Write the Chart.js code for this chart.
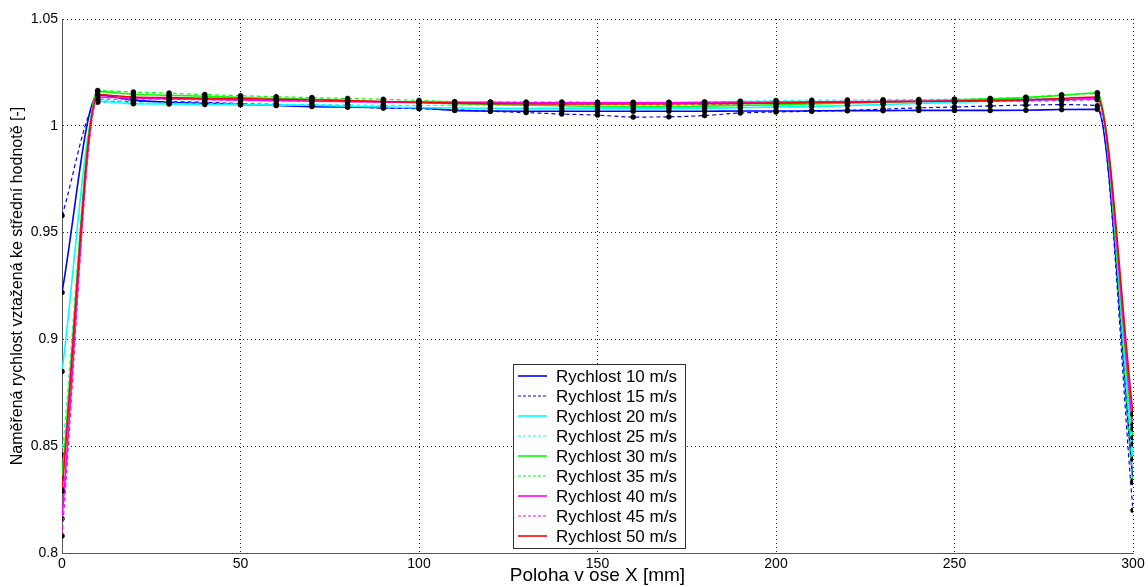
<!DOCTYPE html>
<html>
<head>
<meta charset="utf-8">
<script src="https://cdn.jsdelivr.net/npm/chart.js@4/dist/chart.umd.min.js"></script>
<style>
  body { margin: 0; background: #fff; }
  #wrap { width: 1148px; height: 587px; position: relative; }
</style>
</head>
<body>
<div id="wrap"><canvas id="graf"></canvas></div>
<script>
// poloha v ose X [mm]
const poloha = [0, 10, 20, 30, 40, 50, 60, 70, 80, 90, 100, 110, 120, 130, 140, 150,
  160, 170, 180, 190, 200, 210, 220, 230, 240, 250, 260, 270, 280, 290, 300];

const rychlosti = ["Rychlost 10 m/s", "Rychlost 15 m/s", "Rychlost 20 m/s", "Rychlost 25 m/s",
  "Rychlost 30 m/s", "Rychlost 35 m/s", "Rychlost 40 m/s", "Rychlost 45 m/s", "Rychlost 50 m/s"];

const v10 = [0.922, 1.0145, 1.012, 1.011, 1.0105, 1.0100, 1.0095, 1.0090, 1.0088, 1.0085, 1.0083,
  1.0072, 1.0069, 1.0068, 1.0068, 1.0068, 1.0068, 1.0068, 1.0068, 1.0069, 1.0069, 1.0070, 1.0071,
  1.0071, 1.0072, 1.0072, 1.0072, 1.0073, 1.0076, 1.0077, 0.834];
const v15 = [0.958, 1.011, 1.0115, 1.0113, 1.0110, 1.0104, 1.0100, 1.0095, 1.0088, 1.0083, 1.0080,
  1.0075, 1.0068, 1.0062, 1.0055, 1.0050, 1.0041, 1.0042, 1.0048, 1.0060, 1.0065, 1.0068, 1.0072,
  1.0078, 1.0084, 1.0088, 1.0093, 1.0097, 1.0099, 1.0094, 0.820];
const v20 = [0.885, 1.0115, 1.0103, 1.0102, 1.0100, 1.0099, 1.0097, 1.0096, 1.0092, 1.0088, 1.0085,
  1.0083, 1.0082, 1.0081, 1.0080, 1.0080, 1.0080, 1.0081, 1.0082, 1.0085, 1.0088, 1.0090, 1.0095,
  1.0100, 1.0105, 1.0110, 1.0115, 1.0118, 1.0120, 1.0125, 0.844];
const v25 = [0.846, 1.0120, 1.0108, 1.0106, 1.0104, 1.0102, 1.0101, 1.0100, 1.0098, 1.0096, 1.0095,
  1.0096, 1.0097, 1.0098, 1.0100, 1.0102, 1.0105, 1.0108, 1.0112, 1.0115, 1.0118, 1.0120, 1.0121,
  1.0122, 1.0123, 1.0124, 1.0125, 1.0126, 1.0128, 1.0130, 0.851];
const v30 = [0.835, 1.0160, 1.0148, 1.0143, 1.0138, 1.0133, 1.0128, 1.0124, 1.0118, 1.0112, 1.0108,
  1.0103, 1.0100, 1.0097, 1.0094, 1.0091, 1.0090, 1.0090, 1.0092, 1.0095, 1.0098, 1.0102, 1.0106,
  1.0110, 1.0115, 1.0120, 1.0125, 1.0132, 1.0142, 1.0155, 0.854];
const v35 = [0.830, 1.0165, 1.0158, 1.0153, 1.0146, 1.0141, 1.0136, 1.0132, 1.0128, 1.0124, 1.0119,
  1.0113, 1.0110, 1.0107, 1.0103, 1.0100, 1.0098, 1.0097, 1.0099, 1.0102, 1.0105, 1.0108, 1.0112,
  1.0116, 1.0120, 1.0124, 1.0128, 1.0134, 1.0145, 1.0150, 0.833];
const v40 = [0.816, 1.0135, 1.0130, 1.0127, 1.0124, 1.0121, 1.0118, 1.0115, 1.0113, 1.0111, 1.0110,
  1.0109, 1.0109, 1.0108, 1.0108, 1.0108, 1.0108, 1.0108, 1.0109, 1.0110, 1.0111, 1.0112, 1.0113,
  1.0114, 1.0115, 1.0117, 1.0119, 1.0121, 1.0124, 1.0128, 0.858];
const v45 = [0.808, 1.0125, 1.0125, 1.0124, 1.0122, 1.0120, 1.0118, 1.0116, 1.0114, 1.0112, 1.0111,
  1.0111, 1.0111, 1.0111, 1.0111, 1.0110, 1.0110, 1.0110, 1.0110, 1.0111, 1.0111, 1.0112, 1.0113,
  1.0114, 1.0114, 1.0115, 1.0115, 1.0116, 1.0118, 1.0122, 0.860];
const v50 = [0.829, 1.0145, 1.0135, 1.0132, 1.0129, 1.0127, 1.0124, 1.0122, 1.0118, 1.0114, 1.0110,
  1.0106, 1.0104, 1.0103, 1.0102, 1.0102, 1.0102, 1.0102, 1.0103, 1.0105, 1.0106, 1.0108, 1.0110,
  1.0112, 1.0114, 1.0116, 1.0118, 1.0122, 1.0128, 1.0135, 0.865];

const xTicks = [0, 50, 100, 150, 200, 250, 300];
const yTicks = [0.8, 0.85, 0.9, 0.95, 1, 1.05];

const hodnoty = [v10, v15, v20, v25, v30, v35, v40, v45, v50];
const barvy = ["#0000ff", "#0000ff", "#00ffff", "#00ffff", "#00ff00", "#00ff00", "#ff00ff", "#ff00ff", "#ff0000"];

const datasets = hodnoty.map((v, i) => ({
  label: rychlosti[i],
  data: v.map((y, j) => ({ x: poloha[j], y: y })),
  borderColor: barvy[i],
  borderWidth: i % 2 ? 1.2 : 1.6,
  borderDash: i % 2 ? [4, 3] : [],
  cubicInterpolationMode: "monotone",
  pointRadius: 2.5,
  pointBackgroundColor: "#000",
  pointBorderColor: "#000",
  pointBorderWidth: 0.5,
  order: hodnoty.length - 1 - i, // posledni rada navrchu
}));

// legenda uvnitr grafu (jako v MATLABu)
const legendaUvnitr = {
  id: "legendaUvnitr",
  afterDraw(chart) {
    const ctx = chart.ctx;
    const x0 = 513, y0 = 364, w = 172, h = 184;
    ctx.save();
    ctx.fillStyle = "#fff";
    ctx.fillRect(x0, y0, w, h);
    ctx.strokeStyle = "#333";
    ctx.lineWidth = 1;
    ctx.strokeRect(x0 + 0.5, y0 + 0.5, w, h);
    ctx.font = "17px 'Liberation Sans', Arial, sans-serif";
    ctx.textBaseline = "middle";
    chart.data.datasets.forEach((ds, i) => {
      const y = y0 + 12 + i * 20;
      ctx.strokeStyle = ds.borderColor;
      ctx.lineWidth = ds.borderDash.length ? 1.2 : 1.6;
      ctx.setLineDash(ds.borderDash.length ? [3, 2] : []);
      ctx.beginPath();
      ctx.moveTo(x0 + 5, y);
      ctx.lineTo(x0 + 34, y);
      ctx.stroke();
      ctx.setLineDash([]);
      ctx.fillStyle = "#000";
      ctx.fillText(ds.label, x0 + 43, y + 1);
    });
    ctx.restore();
  },
};

const ctx = document.getElementById("graf").getContext("2d");
new Chart(ctx, {
  type: "line",
  data: { datasets: datasets },
  options: {
    responsive: true,
    maintainAspectRatio: false,
    animation: false,
    layout: { padding: { top: 19, right: 15, left: 0, bottom: 0 } },
    plugins: { legend: { display: false }, tooltip: { enabled: false } },
    scales: {
      x: {
        type: "linear",
        min: 0,
        max: 300,
        afterFit: (s) => { s.height = 34; },
        afterBuildTicks: (s) => { s.ticks = xTicks.map((v) => ({ value: v })); },
        ticks: { color: "#000", font: { size: 14, family: "'Liberation Sans', Arial" }, padding: 3 },
        grid: { color: "#222", drawTicks: false },
        border: { color: "#555", width: 1, dash: [1, 3] },
        title: {
          display: true,
          text: "Poloha v ose X [mm]",
          color: "#000",
          font: { size: 19, family: "'Liberation Sans', Arial" },
          padding: 0,
        },
      },
      y: {
        min: 0.8,
        max: 1.05,
        afterFit: (s) => { s.width = 62; },
        afterBuildTicks: (s) => { s.ticks = yTicks.map((v) => ({ value: v })); },
        ticks: {
          color: "#000",
          font: { size: 14, family: "'Liberation Sans', Arial" },
          padding: 4,
          callback: (v) => String(Number(v.toFixed(2))),
        },
        grid: { color: "#222", drawTicks: false },
        border: { color: "#555", width: 1, dash: [1, 3] },
        title: {
          display: true,
          text: "Naměřená rychlost vztažená ke střední hodnotě [-]",
          color: "#000",
          font: { size: 16, family: "'Liberation Sans', Arial" },
          padding: { top: 8, bottom: 0 },
        },
      },
    },
  },
  plugins: [legendaUvnitr],
});
</script>
</body>
</html>
